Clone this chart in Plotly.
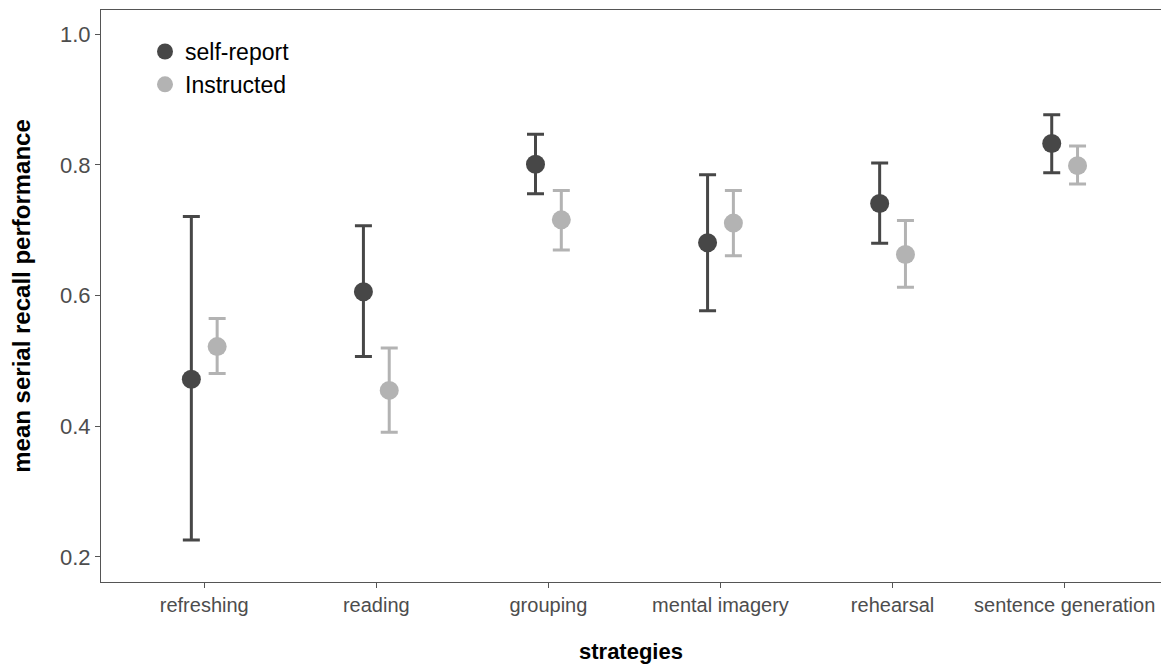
import plotly.graph_objects as go

strategies = ["refreshing", "reading", "grouping", "mental imagery", "rehearsal", "sentence generation"]

self_mean = [0.472, 0.606, 0.801, 0.681, 0.741, 0.833]
self_upper = [0.721, 0.707, 0.847, 0.785, 0.803, 0.877]
self_lower = [0.226, 0.507, 0.756, 0.577, 0.680, 0.788]

instr_mean = [0.522, 0.455, 0.716, 0.711, 0.663, 0.799]
instr_upper = [0.565, 0.520, 0.761, 0.761, 0.715, 0.829]
instr_lower = [0.481, 0.391, 0.670, 0.661, 0.613, 0.771]

y_ticks = [0.2, 0.4, 0.6, 0.8, 1.0]

DODGE = 0.075
DARK = "#474747"
LIGHT = "#b3b3b3"


def add_series(fig, name, means, upper, lower, offset, color):
    xs = [i + offset for i in range(len(means))]
    fig.add_trace(go.Scatter(
        x=xs, y=means, name=name, mode="markers",
        marker=dict(size=19, color=color),
        error_y=dict(
            type="data", symmetric=False,
            array=[u - m for u, m in zip(upper, means)],
            arrayminus=[m - l for m, l in zip(means, lower)],
            color=color, thickness=3, width=8.5,
        ),
    ))


fig = go.Figure()
add_series(fig, "self-report", self_mean, self_upper, self_lower, -DODGE, DARK)
add_series(fig, "Instructed", instr_mean, instr_upper, instr_lower, DODGE, LIGHT)

axis_common = dict(
    showgrid=False, zeroline=False, showline=True, linecolor="#555555", linewidth=1.2,
    ticks="outside", ticklen=5, tickcolor="#555555", tickwidth=1.2,
)

fig.update_layout(
    width=1162, height=666,
    margin=dict(l=101, r=1, t=10, b=84),
    paper_bgcolor="white", plot_bgcolor="white",
    font=dict(family="Liberation Sans, Arial, sans-serif", color="#000000"),
    showlegend=True,
    legend=dict(
        x=(145 - 101) / 1060, y=0.965, xanchor="left", yanchor="top",
        font=dict(size=23, color="#000000"), bgcolor="rgba(0,0,0,0)",
        tracegroupgap=0, itemwidth=30,
    ),
    xaxis=dict(
        range=[-0.6, 5.56], tickmode="array",
        tickvals=list(range(len(strategies))), ticktext=strategies,
        tickfont=dict(size=20, color="#4d4d4d"),
        title=dict(text="<b>strategies</b>", font=dict(size=22, color="#000000"), standoff=28),
        mirror=True,
        **axis_common,
    ),
    yaxis=dict(
        range=[0.1617, 1.0372], tickmode="array",
        tickvals=y_ticks, ticktext=[f"{v:.1f}" for v in y_ticks],
        tickfont=dict(size=22, color="#4d4d4d"),
        title=dict(text="<b>mean serial recall performance</b>", font=dict(size=24, color="#000000"), standoff=22),
        mirror=False,
        **axis_common,
    ),
)

fig.write_html("out.html")
